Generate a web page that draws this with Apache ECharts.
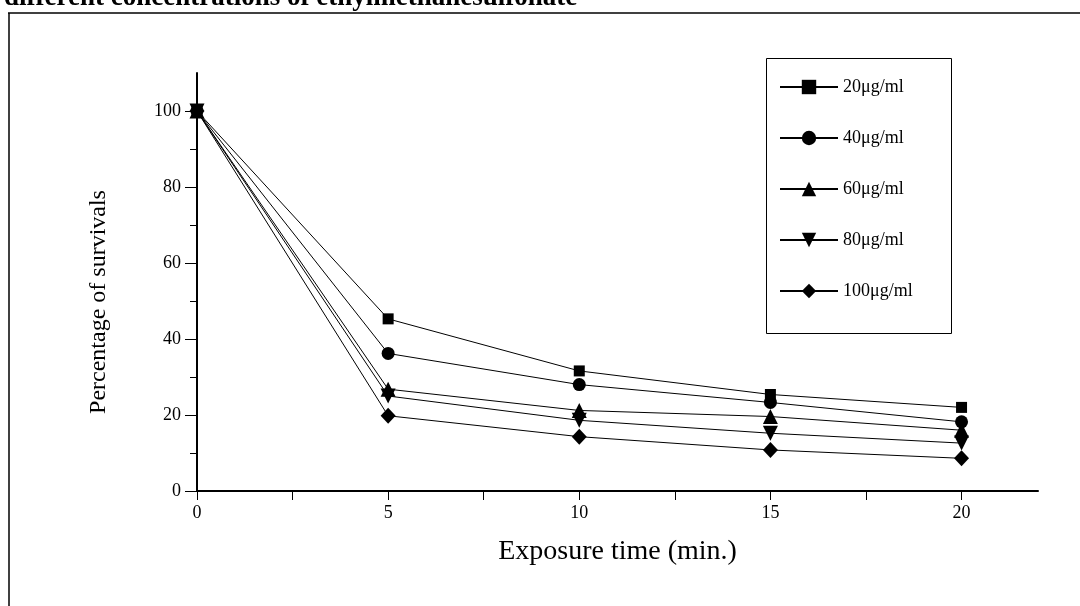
<!DOCTYPE html>
<html>
<head>
<meta charset="utf-8">
<script src="https://cdn.jsdelivr.net/npm/echarts@6/dist/echarts.min.js"></script>
<style>
  html, body { margin: 0; padding: 0; background: #fff; }
  #chart { width: 1080px; height: 606px; }
</style>
</head>
<body>
<div id="chart"></div>
<script>
// 数据
const times = [0, 5, 10, 15, 20]
const xTicks = [0, 5, 10, 15, 20]
const yTicks = [0, 20, 40, 60, 80, 100]
const concentrations = ['20μg/ml', '40μg/ml', '60μg/ml', '80μg/ml', '100μg/ml']
const survival20 = [100, 45.3, 31.6, 25.4, 22.0]
const survival40 = [100, 36.2, 28.0, 23.3, 18.2]
const survival60 = [100, 26.8, 21.2, 19.6, 16.0]
const survival80 = [100, 25.0, 18.6, 15.2, 12.6]
const survival100 = [100, 19.8, 14.3, 10.8, 8.6]

const serif = 'Liberation Serif, Times New Roman, serif'
const seriesValues = [survival20, survival40, survival60, survival80, survival100]
const symbols = [
  { symbol: 'rect', size: 11, rotate: 0 },
  { symbol: 'circle', size: 13, rotate: 0 },
  { symbol: 'triangle', size: 15, rotate: 0 },
  { symbol: 'triangle', size: 15, rotate: 180 },
  { symbol: 'diamond', size: [15, 16], rotate: 0 }
]

const chart = echarts.init(document.getElementById('chart'))

const option = {
  backgroundColor: '#fff',
  animation: false,
  textStyle: { fontFamily: serif, color: '#000' },
  title: {
    text: 'different concentrations of ethylmethanesulfonate',
    left: -1,
    top: -20,
    textStyle: { fontFamily: serif, fontWeight: 'bold', fontSize: 27, color: '#000' }
  },
  graphic: [
    { type: 'line', shape: { x1: 8, y1: 13, x2: 1080, y2: 13 }, style: { stroke: '#000', lineWidth: 1.5 }, z: 10 },
    { type: 'line', shape: { x1: 9, y1: 13, x2: 9, y2: 606 }, style: { stroke: '#000', lineWidth: 1.5 } },
    { type: 'rect', shape: { x: 766.5, y: 58.5, width: 185, height: 275 }, style: { fill: 'none', stroke: '#000', lineWidth: 1 }, z: 0 }
  ],
  legend: {
    orient: 'vertical',
    left: 779,
    top: 78,
    itemWidth: 58,
    itemHeight: 18,
    itemGap: 33,
    padding: 0,
    textStyle: { fontFamily: serif, fontSize: 18, color: '#000' },
    data: concentrations
  },
  grid: {
    left: 197,
    right: 42,
    top: 73,
    bottom: 115,
    containLabel: false
  },
  xAxis: {
    type: 'value',
    min: 0,
    max: 22,
    interval: 5,
    name: 'Exposure time (min.)',
    nameLocation: 'middle',
    nameGap: 47,
    nameTextStyle: { fontFamily: serif, fontSize: 28, color: '#000' },
    axisLine: { lineStyle: { color: '#000', width: 2 } },
    axisTick: { inside: false, length: 9, customValues: xTicks, lineStyle: { color: '#000', width: 1 } },
    minorTick: { show: true, splitNumber: 2, length: 9, lineStyle: { color: '#000', width: 1 } },
    axisLabel: { fontFamily: serif, fontSize: 18, color: '#000', margin: 13, customValues: xTicks },
    splitLine: { show: false }
  },
  yAxis: {
    type: 'value',
    min: 0,
    max: 110,
    interval: 20,
    name: 'Percentage of survivals',
    nameLocation: 'middle',
    nameGap: 86,
    nameRotate: 90,
    nameTextStyle: { fontFamily: serif, fontSize: 24, color: '#000', padding: [0, 40, 0, 0] },
    axisLine: { lineStyle: { color: '#000', width: 2 } },
    axisTick: { inside: false, length: 12, customValues: yTicks, lineStyle: { color: '#000', width: 1 } },
    minorTick: { show: true, splitNumber: 2, length: 7, lineStyle: { color: '#000', width: 1 } },
    axisLabel: { fontFamily: serif, fontSize: 18, color: '#000', margin: 16, customValues: yTicks },
    splitLine: { show: false }
  },
  series: concentrations.map((name, i) => ({
    name: name,
    type: 'line',
    data: times.map((t, j) => [t, seriesValues[i][j]]),
    symbol: symbols[i].symbol,
    symbolSize: symbols[i].size,
    symbolRotate: symbols[i].rotate,
    showAllSymbol: true,
    lineStyle: { color: '#000', width: 1 },
    itemStyle: { color: '#000' }
  }))
}

chart.setOption(option)
</script>
</body>
</html>
